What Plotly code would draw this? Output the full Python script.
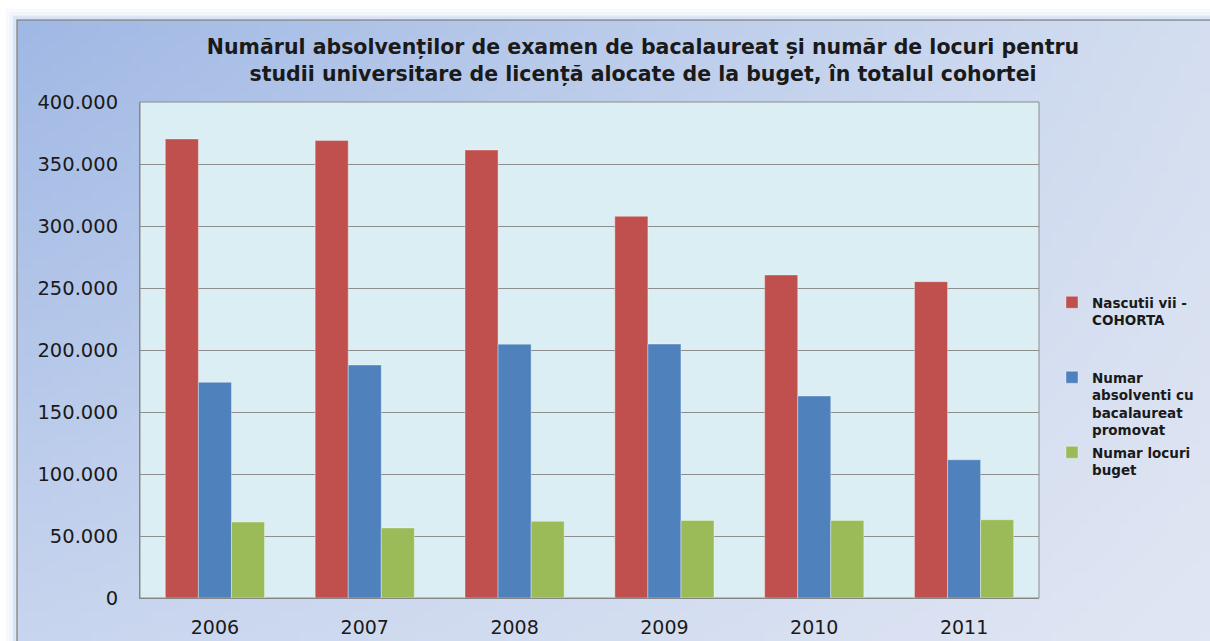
import zlib, struct, base64
import plotly.graph_objects as go

# ---- data ----
years = ["2006", "2007", "2008", "2009", "2010", "2011"]
nascuti = [370200, 368900, 361300, 307800, 260500, 255100]
absolventi = [173900, 187900, 204700, 204800, 162900, 111500]
locuri = [61300, 56500, 61800, 62600, 62600, 63100]
names = ["Nascutii vii -<br>COHORTA",
         "Numar<br>absolventi cu<br>bacalaureat<br>promovat",
         "Numar locuri<br>buget"]
colors = ["#C0504D", "#4F81BD", "#9BBB59"]
title_text = ("Numărul absolvenților de examen de bacalaureat și număr de locuri pentru<br>"
              "studii universitare de licență alocate de la buget, în totalul cohortei")

# ---- layout geometry ----
W, H = 1210, 641
ML, MR, MT, MB = 140, 171, 102, 43
PW, PH = W - ML - MR, H - MT - MB


def px_to_paper_x(px):
    return (px - ML) / PW


def px_to_paper_y(py):
    return (H - MB - py) / PH


# ---- gradient background image (bilinear) ----
def make_png(w, h):
    TL, TR = (160, 184, 228), (212, 222, 240)
    BL, BR = (200, 213, 238), (224, 230, 243)
    rows = []
    for j in range(h):
        v = j / (h - 1)
        row = bytearray([0])
        for i in range(w):
            u = i / (w - 1)
            for k in range(3):
                c = (TL[k] * (1 - u) * (1 - v) + TR[k] * u * (1 - v)
                     + BL[k] * (1 - u) * v + BR[k] * u * v)
                row.append(int(round(c)))
        rows.append(bytes(row))
    raw = b"".join(rows)

    def chunk(t, d):
        return (struct.pack(">I", len(d)) + t + d
                + struct.pack(">I", zlib.crc32(t + d) & 0xffffffff))
    return (b"\x89PNG\r\n\x1a\n"
            + chunk(b"IHDR", struct.pack(">IIBBBBB", w, h, 8, 2, 0, 0, 0))
            + chunk(b"IDAT", zlib.compress(raw))
            + chunk(b"IEND", b""))


png_uri = "data:image/png;base64," + base64.b64encode(make_png(121, 64)).decode()

FX0, FY0 = 17, 20  # frame top-left

fig = go.Figure()
legend_ids = ["legend", "legend2", "legend3"]
series = [nascuti, absolventi, locuri]
for s, nm, col, lg in zip(series, names, colors, legend_ids):
    fig.add_trace(go.Bar(
        x=years, y=s, name=nm, legend=lg, showlegend=True,
        marker=dict(color=col, line=dict(color="rgba(255,255,255,0.35)", width=1)),
    ))

legend_font = dict(family="DejaVu Sans", size=13.5, color="#1a1a1a", weight="bold")
leg_common = dict(x=px_to_paper_x(1052), xanchor="left", yanchor="top",
                  bgcolor="rgba(0,0,0,0)", font=legend_font, valign="top",
                  itemwidth=30, visible=True)

shapes = []
# glow around the frame
for d, a in [(10, 0.06), (7, 0.11), (4, 0.18), (2, 0.28)]:
    shapes.append(dict(type="rect", xref="paper", yref="paper",
                       x0=px_to_paper_x(FX0 - d), x1=px_to_paper_x(W + 20),
                       y0=px_to_paper_y(H + 20), y1=px_to_paper_y(FY0 - d),
                       line=dict(color=f"rgba(120,160,230,{a})", width=2.5),
                       layer="below"))
# plot area background
shapes.append(dict(type="rect", xref="paper", yref="paper", x0=0, x1=1, y0=0, y1=1,
                   fillcolor="#DBEEF3", line=dict(color="#8c8c8c", width=1),
                   layer="below"))
# frame border
shapes.append(dict(type="rect", xref="paper", yref="paper",
                   x0=px_to_paper_x(FX0), x1=px_to_paper_x(W + 5),
                   y0=px_to_paper_y(H + 5), y1=px_to_paper_y(FY0),
                   line=dict(color="#8a8a8a", width=1.5), layer="below"))

fig.update_layout(
    width=W, height=H, showlegend=True,
    margin=dict(l=ML, r=MR, t=MT, b=MB, autoexpand=False),
    paper_bgcolor="white", plot_bgcolor="rgba(0,0,0,0)",
    separators=",.",
    barmode="group", bargap=0.338, bargroupgap=0,
    title=dict(text=title_text, x=px_to_paper_x(643), xref="paper", xanchor="center",
               y=1 - 54 / H, yref="container", yanchor="middle",
               font=dict(family="DejaVu Sans", size=20.5, color="#1a1a1a", weight="bold")),
    images=[dict(source=png_uri, xref="paper", yref="paper",
                 x=px_to_paper_x(FX0), y=px_to_paper_y(FY0),
                 sizex=(W + 5 - FX0) / PW, sizey=(H + 5 - FY0) / PH,
                 xanchor="left", yanchor="top", sizing="stretch", layer="below")],
    shapes=shapes,
    legend=dict(y=px_to_paper_y(287), **leg_common),
    legend2=dict(y=px_to_paper_y(362), **leg_common),
    legend3=dict(y=px_to_paper_y(437), **leg_common),
    xaxis=dict(showgrid=False, showline=True, linecolor="#868686", linewidth=1,
               ticks="", ticklabelstandoff=12,
               tickfont=dict(family="DejaVu Sans", size=19, color="#1a1a1a")),
    yaxis=dict(range=[0, 400000], dtick=50000, tickformat=",d",
               showgrid=True, gridcolor="#8e8e8e", gridwidth=1,
               showline=True, linecolor="#868686", linewidth=1, zeroline=False,
               ticks="", ticklabelstandoff=17,
               tickfont=dict(family="DejaVu Sans", size=19.5, color="#1a1a1a")),
)

fig.write_html("out.html", config={"displayModeBar": False},
               post_script="document.body.style.margin='0';document.body.style.overflow='hidden';")
